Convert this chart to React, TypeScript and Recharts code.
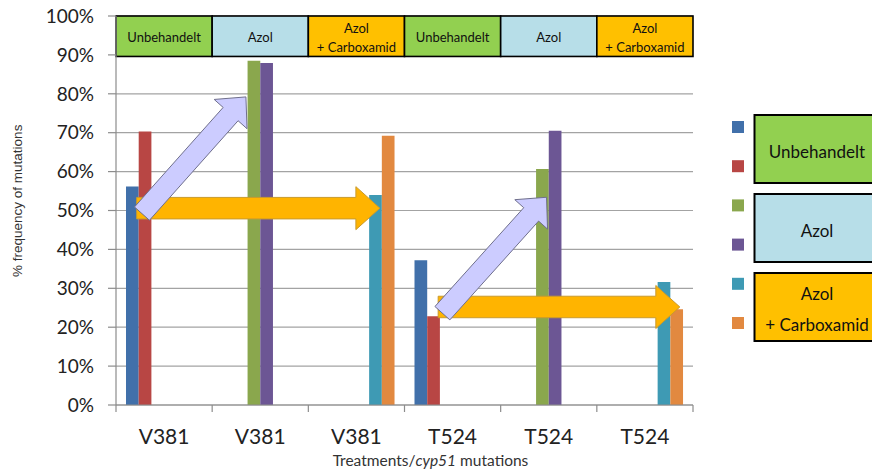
import React from 'react';
import {
  BarChart,
  Bar,
  XAxis,
  YAxis,
  CartesianGrid,
  ReferenceArea,
  ReferenceLine,
  Legend,
} from 'recharts';

// ---- data ---------------------------------------------------------------

const categories = ['V381', 'V381', 'V381', 'T524', 'T524', 'T524'];
// treatment shown in the header box above each category
const categoryTreatment = [0, 1, 2, 0, 1, 2];
const treatmentLines = [['Unbehandelt'], ['Azol'], ['Azol', '+ Carboxamid']];

// % frequency of mutations, one value per category (null = no bar)
const unbehandelt1 = [56.2, null, null, 37.2, null, null];
const unbehandelt2 = [70.3, null, null, 22.8, null, null];
const azol1 = [null, 88.5, null, null, 60.7, null];
const azol2 = [null, 87.9, null, null, 70.5, null];
const carboxamid1 = [null, null, 54.0, null, null, 31.6];
const carboxamid2 = [null, null, 69.2, null, null, 24.6];

const yTicks = [0, 10, 20, 30, 40, 50, 60, 70, 80, 90, 100];

// ---- styling / config ----------------------------------------------------

const series = [
  { key: 'u1', name: 'Unbehandelt 1', values: unbehandelt1, color: '#4170AA' },
  { key: 'u2', name: 'Unbehandelt 2', values: unbehandelt2, color: '#B84644' },
  { key: 'a1', name: 'Azol 1', values: azol1, color: '#8AA74D' },
  { key: 'a2', name: 'Azol 2', values: azol2, color: '#6C5694' },
  { key: 'c1', name: 'Azol + Carboxamid 1', values: carboxamid1, color: '#3E9AB4' },
  { key: 'c2', name: 'Azol + Carboxamid 2', values: carboxamid2, color: '#E28940' },
];

const treatmentFill = ['#92D050', '#B7DEE8', '#FFC000'];

// header band spans this value range on the y axis
const headerBand = [89.6, 100];

// trend arrows, in axis units: x = category slot (0..6), y = %
const shiftArrows = [
  { from: { x: 0.215, y: 50.6 }, to: { x: 2.744, y: 50.6 } },
  { from: { x: 3.35, y: 25.2 }, to: { x: 5.863, y: 25.2 } },
];
const riseArrows = [
  { from: { x: 0.27, y: 49.2 }, to: { x: 1.351, y: 79.2 } },
  { from: { x: 3.394, y: 23.6 }, to: { x: 4.477, y: 53.4 } },
];

const tableData = categories.map((label, i) => {
  const row: Record<string, any> = { id: `${label}-${i}`, label };
  series.forEach((s) => {
    row[s.key] = s.values[i];
  });
  return row;
});

const categoryIds = tableData.map((r) => r.id);
// position of a row on the continuous slot axis (its index)
const slotOf = (row: any) => categoryIds.indexOf(row.id);

const slotTicks = categories
  .flatMap((_, i) => [i, i + 0.5])
  .concat(categories.length);

const LABEL_FONT = 'Lato, "Open Sans", sans-serif';
const ARIAL = '"Liberation Sans", Arial, sans-serif';

// ---- shapes -------------------------------------------------------------

type ArrowStyle = {
  shaft: number;
  headWidth: number;
  headLength: number;
  fill: string;
  stroke: string;
};

const makeArrow = (st: ArrowStyle) => (props: any) => {
  const { x1, y1, x2, y2 } = props;
  const dx = x2 - x1;
  const dy = y2 - y1;
  const len = Math.hypot(dx, dy) || 1;
  const ux = dx / len;
  const uy = dy / len;
  const nx = -uy;
  const ny = ux;
  const bx = x2 - ux * st.headLength;
  const by = y2 - uy * st.headLength;
  const s = st.shaft / 2;
  const h = st.headWidth / 2;
  const pts = [
    [x1 + nx * s, y1 + ny * s],
    [bx + nx * s, by + ny * s],
    [bx + nx * h, by + ny * h],
    [x2, y2],
    [bx - nx * h, by - ny * h],
    [bx - nx * s, by - ny * s],
    [x1 - nx * s, y1 - ny * s],
  ];
  return (
    <polygon
      points={pts.map((p) => `${p[0]},${p[1]}`).join(' ')}
      fill={st.fill}
      stroke={st.stroke}
      strokeWidth={1}
      strokeLinejoin="miter"
    />
  );
};

const shiftArrowShape = makeArrow({
  shaft: 21.5,
  headWidth: 43,
  headLength: 24,
  fill: '#FFB400',
  stroke: '#C99A2E',
});

const riseArrowShape = makeArrow({
  shaft: 20,
  headWidth: 44,
  headLength: 23,
  fill: '#CCCCFF',
  stroke: '#6F6F8C',
});

const headerShape = (treatment: number) => (props: any) => {
  const { x, y, width, height } = props;
  const lines = treatmentLines[treatment];
  const cx = x + width / 2;
  const cy = y + height / 2 + 1;
  const gap = 19;
  return (
    <g>
      <rect
        x={x}
        y={y}
        width={width}
        height={height}
        fill={treatmentFill[treatment]}
        stroke="#000"
        strokeWidth={1.6}
      />
      {lines.map((t, i) => (
        <text
          key={i}
          x={cx}
          y={cy + (i - (lines.length - 1) / 2) * gap}
          textAnchor="middle"
          dominantBaseline="central"
          fontFamily={LABEL_FONT}
          fontSize={13}
          fill="#111"
        >
          {t}
        </text>
      ))}
    </g>
  );
};

const SlotTick = (props: any) => {
  const { x, y, payload } = props;
  const v = payload.value as number;
  if (Number.isInteger(v)) {
    return <line x1={x} x2={x} y1={y} y2={y + 7} stroke="#8c8c8c" strokeWidth={1.2} />;
  }
  return (
    <text
      x={x}
      y={y + 39}
      textAnchor="middle"
      fontFamily={LABEL_FONT}
      fontSize={21}
      fill="#222"
    >
      {categories[Math.floor(v)]}
    </text>
  );
};

const XTitle = (props: any) => {
  const vb = props.viewBox || { x: 116, y: 405, width: 577, height: 40 };
  return (
    <text
      x={vb.x + vb.width / 2 + 26}
      y={vb.y + vb.height + 21}
      textAnchor="middle"
      fontFamily={LABEL_FONT}
      fontSize={15.5}
      fill="#333"
    >
      Treatments/<tspan fontStyle="italic">cyp51</tspan> mutations
    </text>
  );
};

const YTitle = (props: any) => {
  const vb = props.viewBox || { x: 0, y: 16, width: 116, height: 389 };
  const cx = 18;
  const cy = vb.y + vb.height * 0.475;
  return (
    <text
      x={cx}
      y={cy}
      transform={`rotate(-90, ${cx}, ${cy})`}
      textAnchor="middle"
      dominantBaseline="central"
      fontFamily={ARIAL}
      fontSize={13.5}
      fill="#333"
    >
      % frequency of mutations
    </text>
  );
};

const LegendPanel = () => {
  const boxTop = (i: number) => 5 + 79 * i;
  return (
    <svg width={147} height={240} style={{ display: 'block' }}>
      {series.map((s, k) => (
        <rect key={s.key} x={7} y={11 + 39.2 * k} width={12} height={12} fill={s.color} />
      ))}
      {treatmentLines.map((lines, i) => {
        const top = boxTop(i);
        const cy = top + 34;
        const gap = 31.5;
        return (
          <g key={i}>
            <rect
              x={29.5}
              y={top}
              width={140}
              height={68}
              fill={treatmentFill[i]}
              stroke="#000"
              strokeWidth={2}
            />
            {lines.map((t, j) => (
              <text
                key={j}
                x={92}
                y={cy + (j - (lines.length - 1) / 2) * gap + 2}
                textAnchor="middle"
                dominantBaseline="central"
                fontFamily={LABEL_FONT}
                fontSize={17}
                fill="#111"
              >
                {t}
              </text>
            ))}
          </g>
        );
      })}
    </svg>
  );
};

export default function App() {
  return (
    <div style={{ position: 'absolute', left: 0, top: 0, background: '#fff' }}>
      <BarChart
        width={872}
        height={471}
        data={tableData}
        margin={{ top: 16, right: 179, bottom: 26, left: 0 }}
        barGap={0}
        barSize={12.7}
      >
        <CartesianGrid vertical={false} stroke="#a3a3a3" strokeWidth={1.2} />
        <XAxis
          xAxisId="cat"
          dataKey="id"
          type="category"
          domain={categoryIds}
          allowDuplicatedCategory={false}
          hide
        />
        <XAxis
          type="number"
          dataKey={slotOf}
          domain={[0, categories.length]}
          allowDataOverflow
          ticks={slotTicks}
          interval={0}
          height={40}
          tickSize={0}
          tickMargin={0}
          tickLine={false}
          axisLine={{ stroke: '#8c8c8c', strokeWidth: 1.2 }}
          tick={<SlotTick />}
          label={{ content: (p: any) => <XTitle {...p} /> }}
        />
        <YAxis
          domain={[0, 100]}
          ticks={yTicks}
          interval={0}
          width={116}
          tickSize={8}
          tickMargin={14}
          tickFormatter={(v: number) => `${v}%`}
          axisLine={{ stroke: '#8c8c8c', strokeWidth: 1.2 }}
          tickLine={{ stroke: '#8c8c8c', strokeWidth: 1.2 }}
          tick={{ fill: '#222', fontSize: 19, fontFamily: LABEL_FONT }}
          label={{ content: (p: any) => <YTitle {...p} /> }}
        />
        {series.map((s) => (
          <Bar
            key={s.key}
            xAxisId="cat"
            dataKey={s.key}
            name={s.name}
            fill={s.color}
            isAnimationActive={false}
          />
        ))}
        {categoryTreatment.map((t, i) => (
          <ReferenceArea
            key={`hdr-${i}`}
            x1={i}
            x2={i + 1}
            y1={headerBand[0]}
            y2={headerBand[1]}
            ifOverflow="visible"
            shape={headerShape(t)}
          />
        ))}
        {shiftArrows.map((a, i) => (
          <ReferenceLine
            key={`shift-${i}`}
            segment={[a.from, a.to]}
            ifOverflow="visible"
            shape={shiftArrowShape}
          />
        ))}
        {riseArrows.map((a, i) => (
          <ReferenceLine
            key={`rise-${i}`}
            segment={[a.from, a.to]}
            ifOverflow="visible"
            shape={riseArrowShape}
          />
        ))}
        <Legend
          layout="vertical"
          verticalAlign="middle"
          align="center"
          wrapperStyle={{ left: 725, top: 110, width: 147, height: 240 }}
          content={() => <LegendPanel />}
        />
      </BarChart>
    </div>
  );
}
